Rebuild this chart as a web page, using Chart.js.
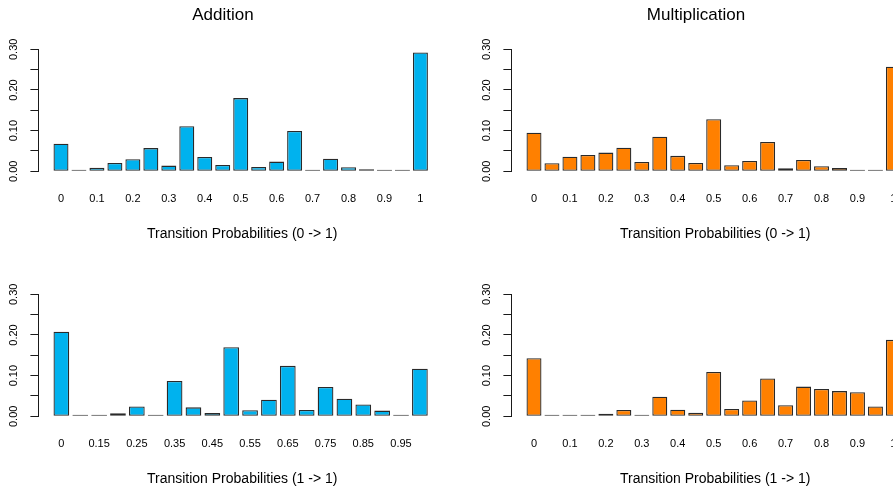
<!DOCTYPE html>
<html>
<head>
<meta charset="utf-8">
<script src="https://cdn.jsdelivr.net/npm/chart.js@4/dist/chart.umd.min.js"></script>
<style>
html,body{margin:0;padding:0;background:#fff;overflow:hidden;width:893px;height:493px;position:relative}
canvas{position:absolute}
</style>
</head>
<body>
<canvas id="c1" style="left:0px;top:0px" width="446" height="246"></canvas>
<canvas id="c2" style="left:473px;top:0px" width="446" height="246"></canvas>
<canvas id="c3" style="left:0px;top:245px" width="446" height="246"></canvas>
<canvas id="c4" style="left:473px;top:245px" width="446" height="246"></canvas>
<script>
// Categories (transition probabilities)
const cats21 = ['0','0.05','0.1','0.15','0.2','0.25','0.3','0.35','0.4','0.45','0.5','0.55','0.6','0.65','0.7','0.75','0.8','0.85','0.9','0.95','1'];
const cats20 = ['0','0.1','0.15','0.2','0.25','0.3','0.35','0.4','0.45','0.5','0.55','0.6','0.65','0.7','0.75','0.8','0.85','0.9','0.95','1'];

// Series values (relative frequencies)
const addition01 = [0.068,0,0.009,0.0205,0.0295,0.057,0.014,0.111,0.035,0.0156,0.180,0.0107,0.0238,0.099,0.004,0.031,0.0098,0.005,0,0,0.292];
const multiplication01 = [0.095,0.0197,0.036,0.040,0.046,0.058,0.023,0.085,0.038,0.0205,0.128,0.0148,0.0254,0.072,0.0074,0.028,0.0123,0.008,0.002,0,0.257];
const addition11 = [0.208,0,0.003,0.0074,0.024,0.003,0.087,0.022,0.008,0.170,0.0148,0.041,0.124,0.0156,0.072,0.043,0.029,0.014,0.003,0.117];
const multiplication11 = [0.143,0,0,0.003,0.006,0.0156,0.004,0.048,0.016,0.009,0.109,0.018,0.039,0.093,0.027,0.073,0.067,0.062,0.059,0.024,0.188];

// Y tick labels
const yTickLabels = ['0.00','0.10','0.20','0.30'];

const FONT = '"Liberation Sans", Arial, Helvetica, sans-serif';
const BLUE = '#00B2EE';
const ORANGE = '#FF8000';
const INK = '#1a1a1a';

function makePanel(id, title, cats, vals, color, xTitle) {
  const n = cats.length;
  new Chart(document.getElementById(id), {
    type: 'bar',
    data: {
      datasets: [{
        data: vals.map((v, i) => ({x: i, y: v})),
        backgroundColor: color,
        borderColor: '#2a2a2a',
        borderWidth: 1.3,
        borderSkipped: false,
        minBarLength: 1.6,
        barPercentage: 1 / 1.2,
        categoryPercentage: 1,
        clip: false
      }]
    },
    options: {
      responsive: false,
      animation: false,
      devicePixelRatio: 1,
      layout: {padding: 0},
      plugins: {
        legend: {display: false},
        tooltip: {enabled: false},
        title: {
          display: true, text: title, color: '#000',
          font: {family: FONT, size: 17, weight: 'normal'},
          padding: {top: 5, bottom: 23.9}
        }
      },
      scales: {
        x: {
          type: 'linear', offset: false,
          min: (-0.5 - 0.048 * n) / 1.2,
          max: (1.248 * n - 0.5) / 1.2,
          grid: {display: false, drawTicks: false, offset: false},
          border: {display: false},
          afterBuildTicks: s => {
            s.ticks = cats.map((c, i) => ({value: i})).filter(t => t.value % 2 === 0);
          },
          ticks: {
            autoSkip: false, maxRotation: 0, minRotation: 0, padding: 21,
            font: {family: FONT, size: 11}, color: '#000',
            callback: v => cats[v]
          },
          title: {
            display: true, text: xTitle, color: '#000',
            font: {family: FONT, size: 14}, padding: {top: 0, bottom: 3.4}
          },
          afterFit: s => { s.height = 74.7; }
        },
        y: {
          min: 0, max: 0.3,
          border: {display: true, color: INK, width: 1},
          grid: {display: true, drawOnChartArea: false, drawTicks: true, tickLength: 8, tickColor: INK, lineWidth: 1},
          ticks: {
            stepSize: 0.05, autoSkip: false, minRotation: 90, maxRotation: 90,
            crossAlign: 'center', padding: 5.7,
            font: {family: FONT, size: 11}, color: '#000',
            callback: v => {
              const k = Math.round(v * 100);
              return k % 10 === 0 ? yTickLabels[k / 10] : '';
            }
          },
          afterFit: s => { s.width = 38.4; }
        }
      }
    }
  });
}

makePanel('c1', 'Addition', cats21, addition01, BLUE, 'Transition Probabilities (0 -> 1)');
makePanel('c2', 'Multiplication', cats21, multiplication01, ORANGE, 'Transition Probabilities (0 -> 1)');
makePanel('c3', '', cats20, addition11, BLUE, 'Transition Probabilities (1 -> 1)');
makePanel('c4', '', cats21, multiplication11, ORANGE, 'Transition Probabilities (1 -> 1)');
</script>
</body>
</html>
